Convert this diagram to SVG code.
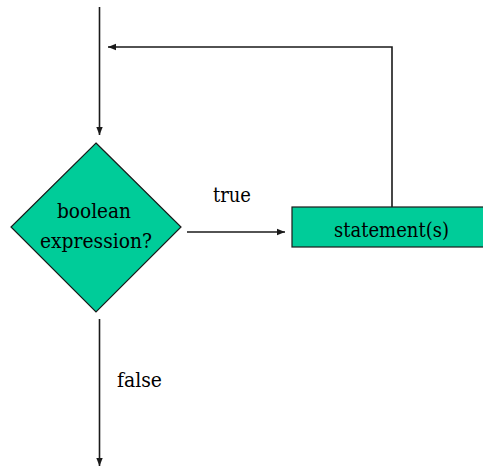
<svg xmlns="http://www.w3.org/2000/svg" width="483" height="470" viewBox="0 0 483 470">
<style>
.shape{fill:#00CC99;stroke:#1a1a1a;stroke-width:1.2}
.conn{fill:none;stroke:#1a1a1a;stroke-width:1.6}
.t{font-family:'DejaVu Serif','Liberation Serif',serif;font-size:21px;fill:#000;text-anchor:middle}
</style>
<defs>
<marker id="ah" viewBox="0 0 10 10" refX="10" refY="5" markerWidth="8" markerHeight="8" markerUnits="userSpaceOnUse" orient="auto">
<path d="M0,1 L10,5 L0,9 Z" fill="#1a1a1a"/>
</marker>
</defs>
<g id="connectors">
<line class="conn" x1="99.5" y1="7" x2="99.5" y2="135" marker-end="url(#ah)"/>
<polyline class="conn" points="392,207 392,47 108,47" marker-end="url(#ah)"/>
<line class="conn" x1="187" y1="232" x2="285" y2="232" marker-end="url(#ah)"/>
<line class="conn" x1="99.5" y1="319" x2="99.5" y2="466" marker-end="url(#ah)"/>
<text class="t" x="232" y="202" textLength="38" lengthAdjust="spacingAndGlyphs">true</text>
<text class="t" x="139.5" y="387" textLength="45" lengthAdjust="spacingAndGlyphs">false</text>
</g>
<g id="decision">
<polygon class="shape" points="96,143 181,227 96,312 11,227"/>
<text class="t" x="94" y="218" textLength="74" lengthAdjust="spacingAndGlyphs">boolean</text>
<text class="t" x="96" y="248" textLength="112" lengthAdjust="spacingAndGlyphs">expression?</text>
</g>
<g id="statement">
<rect class="shape" x="292" y="207" width="194" height="40"/>
<text class="t" x="391.5" y="237" textLength="115" lengthAdjust="spacingAndGlyphs">statement(s)</text>
</g>
</svg>
